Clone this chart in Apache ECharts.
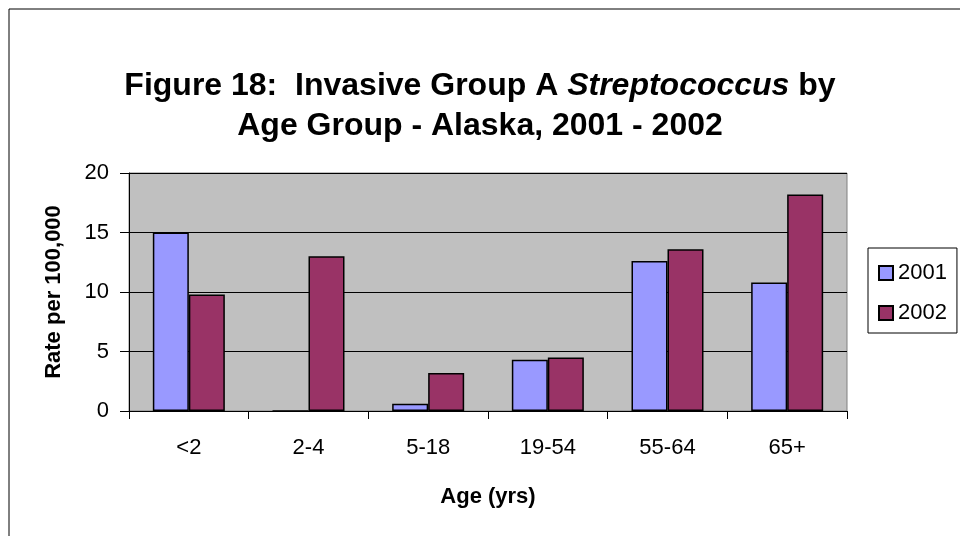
<!DOCTYPE html>
<html>
<head>
<meta charset="utf-8">
<script src="https://cdn.jsdelivr.net/npm/echarts@6/dist/echarts.min.js"></script>
<style>
  html, body { margin: 0; padding: 0; background: #fff; }
  #main { width: 960px; height: 536px; }
</style>
</head>
<body>
<div id="main"></div>
<script>
// age groups on x axis
let categories = ['<2', '2-4', '5-18', '19-54', '55-64', '65+']
// rate per 100,000 by year
let rate2001 = [15.0, 0, 0.6, 4.3, 12.6, 10.8]
let rate2002 = [9.8, 13.0, 3.2, 4.5, 13.6, 18.2]
let yTicks = [0, 5, 10, 15, 20]

let font = 'Liberation Sans, Arial, sans-serif'
let chart = echarts.init(document.getElementById('main'))

chart.setOption({
    backgroundColor: '#fff',
    animation: false,
    textStyle: { fontFamily: font, color: '#000' },
    title: {
        text: 'Figure 18:  Invasive Group A {i|Streptococcus} by\nAge Group - Alaska, 2001 - 2002',
        left: 'center',
        top: 61,
        textStyle: {
            fontFamily: font,
            fontSize: 32,
            fontWeight: 'bold',
            color: '#000',
            lineHeight: 40,
            rich: {
                i: { fontFamily: font, fontSize: 32, fontWeight: 'bold', fontStyle: 'italic', lineHeight: 40, color: '#000' }
            }
        }
    },
    graphic: [
        {
            // outer chart-area frame, right and bottom edges fall outside the picture
            type: 'rect',
            shape: { x: 9, y: 9, width: 1000, height: 600 },
            style: { fill: 'none', stroke: '#000', lineWidth: 1 },
            silent: true
        }
    ],
    legend: {
        orient: 'vertical',
        left: 868,
        top: 248,
        padding: [14, 10, 9, 10],
        itemGap: 18,
        itemWidth: 14,
        itemHeight: 14,
        icon: 'rect',
        borderColor: '#000',
        borderWidth: 1,
        borderRadius: 0,
        textStyle: { fontFamily: font, fontSize: 22, color: '#000' },
        data: ['2001', '2002']
    },
    grid: {
        left: 129,
        right: 113,
        top: 173,
        bottom: 125,
        show: true,
        backgroundColor: '#C0C0C0',
        borderColor: '#808080',
        borderWidth: 1
    },
    xAxis: {
        type: 'category',
        data: categories,
        name: 'Age (yrs)',
        nameLocation: 'middle',
        nameGap: 75,
        nameTextStyle: { fontFamily: font, fontSize: 22, fontWeight: 'bold', color: '#000' },
        axisLine: { lineStyle: { color: '#000', width: 1 } },
        axisTick: { show: true, length: 8, interval: 0, lineStyle: { color: '#000' } },
        axisLabel: { fontFamily: font, fontSize: 22, color: '#000', margin: 26, interval: 0 }
    },
    yAxis: {
        type: 'value',
        min: yTicks[0],
        max: yTicks[yTicks.length - 1],
        interval: 5,
        name: 'Rate per 100,000',
        nameLocation: 'middle',
        nameRotate: 90,
        nameGap: 64,
        nameTextStyle: { fontFamily: font, fontSize: 22, fontWeight: 'bold', color: '#000' },
        axisLine: { show: true, lineStyle: { color: '#000', width: 1 } },
        axisTick: { show: true, length: 9, lineStyle: { color: '#000' } },
        axisLabel: { fontFamily: font, fontSize: 22, color: '#000', margin: 20 },
        splitLine: { show: true, lineStyle: { color: '#000', width: 1 } }
    },
    series: [
        {
            name: '2001',
            type: 'bar',
            data: rate2001,
            barWidth: 36,
            barGap: '0%',
            itemStyle: { color: '#9999FF', borderColor: '#000', borderWidth: 1.5 }
        },
        {
            name: '2002',
            type: 'bar',
            data: rate2002,
            barWidth: 36,
            itemStyle: { color: '#993366', borderColor: '#000', borderWidth: 1.5 }
        }
    ]
})
</script>
</body>
</html>
